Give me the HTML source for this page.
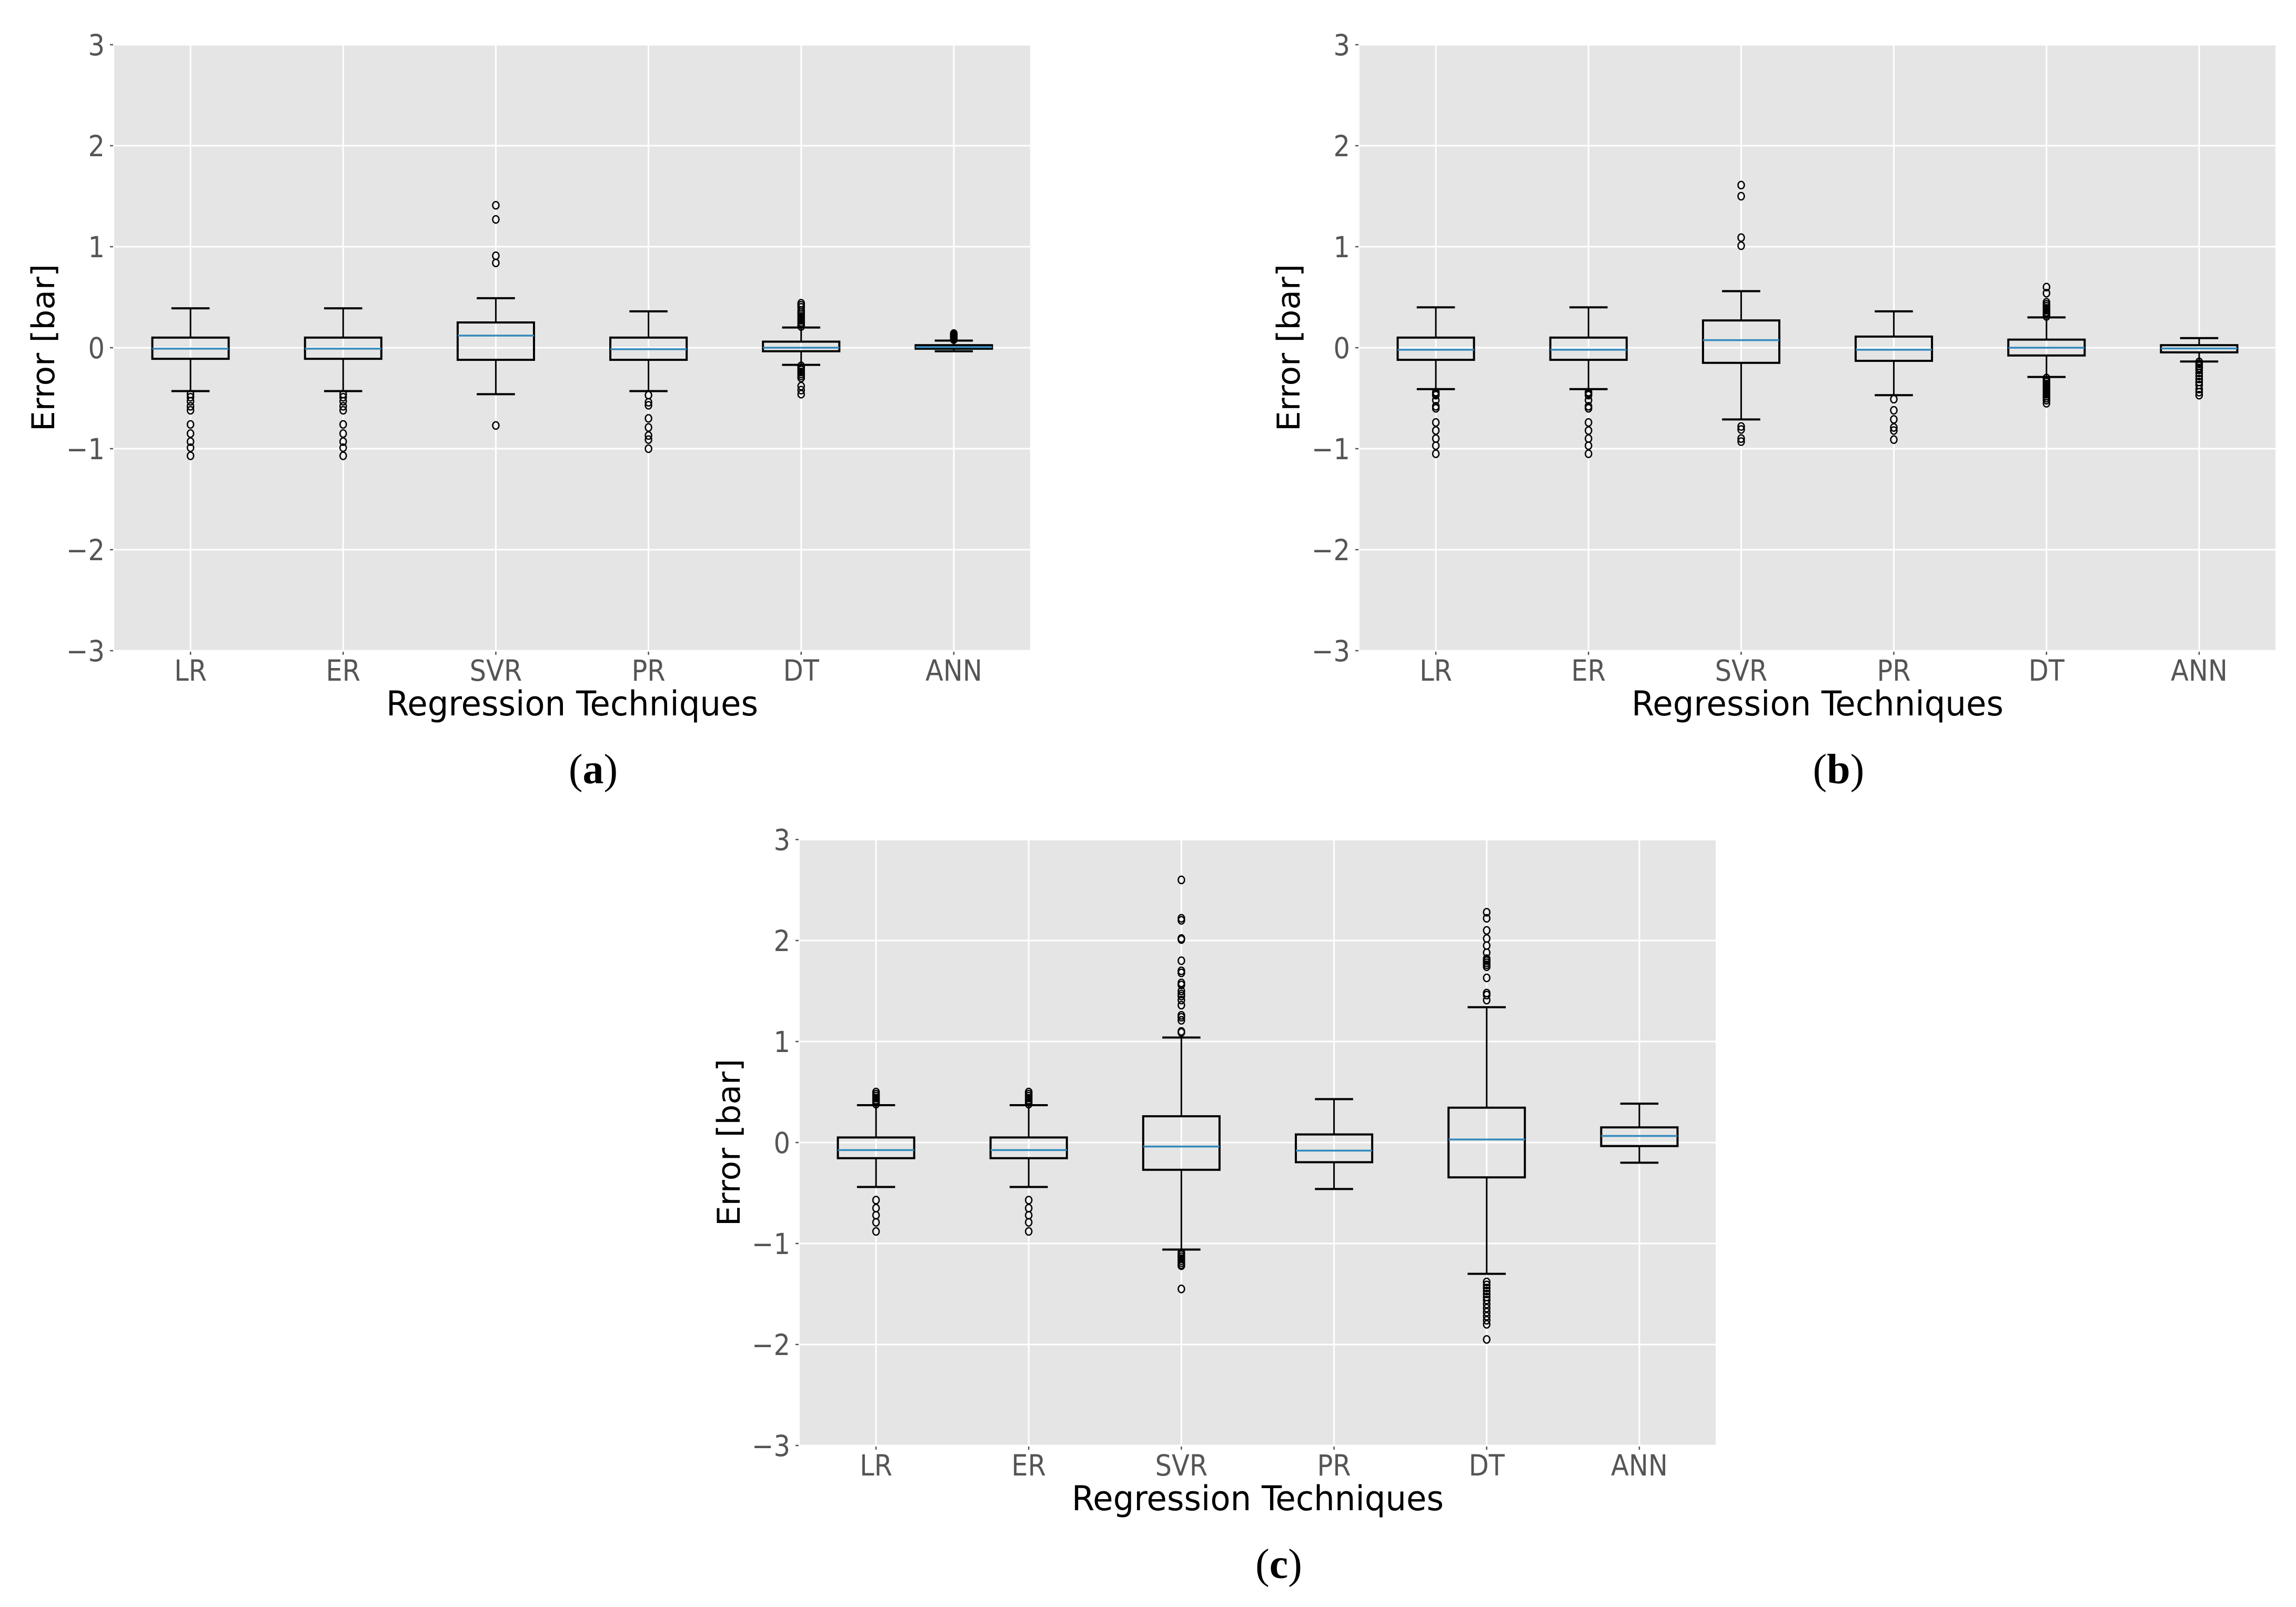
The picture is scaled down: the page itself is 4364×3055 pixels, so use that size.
<!DOCTYPE html>
<html><head><meta charset="utf-8"><style>
html,body{margin:0;padding:0;background:#fff;}
svg{display:block;}
.tick{font-family:"DejaVu Sans Condensed","DejaVu Sans","Liberation Sans",sans-serif;fill:#555;font-size:55px;}
.lab{font-family:"DejaVu Sans Condensed","DejaVu Sans","Liberation Sans",sans-serif;fill:#000;font-size:65px;}
.ylab{font-family:"DejaVu Sans","Liberation Sans",sans-serif;fill:#000;font-size:60px;}
.cap{font-family:"Liberation Serif",serif;fill:#000;font-size:80px;}
</style></head><body>
<svg id="fig" width="4364" height="3055" viewBox="0 0 4364 3055" xmlns="http://www.w3.org/2000/svg"></svg>
<script>
const categories = ["LR","ER","SVR","PR","DT","ANN"];
const yTicks = [3,2,1,0,-1,-2,-3];
// [whiskerLow, Q1, median, Q3, whiskerHigh] per category
const statsA = [[-0.43,-0.11,-0.01,0.10,0.39],[-0.43,-0.11,-0.01,0.10,0.39],[-0.46,-0.12,0.12,0.25,0.49],[-0.43,-0.12,-0.015,0.10,0.36],[-0.17,-0.035,0.0,0.06,0.20],[-0.035,-0.01,0.005,0.025,0.07]];
const outA = [
 [-0.46,-0.49,-0.53,-0.58,-0.62,-0.76,-0.85,-0.93,-0.99,-1.07],
 [-0.46,-0.49,-0.53,-0.58,-0.62,-0.76,-0.85,-0.93,-0.99,-1.07],
 [1.41,1.27,0.91,0.84,-0.77],
 [-0.47,-0.54,-0.57,-0.70,-0.79,-0.87,-0.91,-1.0],
 [0.21,0.23,0.25,0.27,0.29,0.31,0.33,0.35,0.37,0.40,0.42,0.44,-0.18,-0.2,-0.22,-0.24,-0.26,-0.28,-0.30,-0.38,-0.42,-0.46],
 [0.08,0.09,0.1,0.11,0.12,0.13,0.14]
];
const statsB = [[-0.41,-0.12,-0.02,0.10,0.40],[-0.41,-0.12,-0.02,0.10,0.40],[-0.71,-0.15,0.075,0.27,0.56],[-0.47,-0.13,-0.02,0.11,0.36],[-0.29,-0.077,0.0,0.08,0.30],[-0.137,-0.046,-0.007,0.025,0.095]];
const outB = [
 [-0.44,-0.46,-0.47,-0.52,-0.58,-0.60,-0.74,-0.82,-0.90,-0.97,-1.05],
 [-0.44,-0.46,-0.47,-0.52,-0.58,-0.60,-0.74,-0.82,-0.90,-0.97,-1.05],
 [1.61,1.50,1.09,1.01,-0.78,-0.81,-0.90,-0.93],
 [-0.51,-0.62,-0.71,-0.79,-0.82,-0.91],
 [0.31,0.33,0.35,0.37,0.39,0.41,0.43,0.45,0.54,0.60,-0.3,-0.32,-0.34,-0.36,-0.38,-0.40,-0.42,-0.44,-0.46,-0.48,-0.50,-0.52,-0.55],
 [-0.14,-0.16,-0.18,-0.2,-0.22,-0.25,-0.28,-0.31,-0.34,-0.37,-0.41,-0.44,-0.47]
];
const statsC = [[-0.44,-0.155,-0.075,0.05,0.37],[-0.44,-0.155,-0.075,0.05,0.37],[-1.06,-0.27,-0.04,0.26,1.04],[-0.46,-0.195,-0.08,0.08,0.43],[-1.30,-0.345,0.03,0.345,1.34],[-0.2,-0.035,0.065,0.15,0.385]];
const outC = [
 [0.38,0.40,0.42,0.44,0.46,0.48,0.50,-0.57,-0.65,-0.72,-0.79,-0.88],
 [0.38,0.40,0.42,0.44,0.46,0.48,0.50,-0.57,-0.65,-0.72,-0.79,-0.88],
 [1.09,1.10,1.21,1.24,1.26,1.36,1.41,1.45,1.47,1.50,1.56,1.58,1.68,1.70,1.80,2.01,2.02,2.20,2.22,2.60,-1.09,-1.11,-1.13,-1.15,-1.17,-1.19,-1.21,-1.22,-1.45],
 [],
 [1.41,1.46,1.48,1.63,1.74,1.76,1.78,1.80,1.82,1.88,1.95,2.02,2.10,2.22,2.28,-1.38,-1.41,-1.44,-1.47,-1.50,-1.53,-1.56,-1.60,-1.64,-1.68,-1.72,-1.76,-1.80,-1.95],
 []
];

const NS="http://www.w3.org/2000/svg";
const svg=document.getElementById('fig');
function mk(tag,attrs,parent){const e=document.createElementNS(NS,tag);for(const k in attrs)e.setAttribute(k,attrs[k]);(parent||svg).appendChild(e);return e;}
const W=1741,H=1152;
function drawPanel(L,T,stats,outs,capText,key){
  const g=mk('g',{});
  
  
  const xs=i=>L+(i+0.5)*W/6;
  const ys=v=>T+(3-v)*H/6;
  const bg=mk('rect',{x:L,y:T,width:W,height:H,fill:'#E5E5E5'},g);
  
  
  yTicks.forEach((v,i)=>{
    const gl=mk('line',{x1:L,x2:L+W,y1:ys(v),y2:ys(v),stroke:'#fff','stroke-width':3},g);
    
    
    mk('line',{x1:L-8,x2:L-2,y1:ys(v),y2:ys(v),stroke:'#555','stroke-width':2.5},g);
    const lbl = v<0 ? '\u2212'+Math.abs(v) : String(v);
    const t=mk('text',{x:L-18,y:ys(v)+20,'text-anchor':'end',class:'tick'},g);
    t.textContent=lbl;
    
    
  });
  categories.forEach((c,i)=>{
    const gl=mk('line',{x1:xs(i),x2:xs(i),y1:T,y2:T+H,stroke:'#fff','stroke-width':3},g);
    
    
    mk('line',{x1:xs(i),x2:xs(i),y1:T+H+2,y2:T+H+8,stroke:'#555','stroke-width':2.5},g);
    const t=mk('text',{x:xs(i),y:T+H+57,'text-anchor':'middle',class:'tick'},g);
    t.textContent=c;
    
    
  });
  const bw=W/6*0.5;
  stats.forEach((s,i)=>{
    const bx=mk('g',{},g);
    
    
    const x=xs(i);
    mk('line',{x1:x,x2:x,y1:ys(s[0]),y2:ys(s[1]),stroke:'#000','stroke-width':3},bx);
    mk('line',{x1:x,x2:x,y1:ys(s[3]),y2:ys(s[4]),stroke:'#000','stroke-width':3},bx);
    mk('line',{x1:x-bw/4,x2:x+bw/4,y1:ys(s[0]),y2:ys(s[0]),stroke:'#000','stroke-width':4},bx);
    mk('line',{x1:x-bw/4,x2:x+bw/4,y1:ys(s[4]),y2:ys(s[4]),stroke:'#000','stroke-width':4},bx);
    mk('rect',{x:x-bw/2,y:ys(s[3]),width:bw,height:ys(s[1])-ys(s[3]),fill:'none',stroke:'#000','stroke-width':4},bx);
    const md=mk('line',{x1:x-bw/2,x2:x+bw/2,y1:ys(s[2]),y2:ys(s[2]),stroke:'#348ABD','stroke-width':3.5},bx);
    
    
    outs[i].forEach(v=>{
      const o=mk('ellipse',{cx:x,cy:ys(v),rx:6,ry:7,fill:'none',stroke:'#000','stroke-width':2.5},bx);
      
      
    });
  });
  const xl=mk('text',{x:L+W/2,y:T+H+123,'text-anchor':'middle',class:'lab',textLength:707,lengthAdjust:'spacingAndGlyphs'},g);
  xl.textContent='Regression Techniques';
  
  
  const yl=mk('text',{x:0,y:0,'text-anchor':'middle',class:'ylab',textLength:318,lengthAdjust:'spacingAndGlyphs',transform:`translate(${L-114},${T+H/2}) rotate(-90)`},g);
  yl.textContent='Error [bar]';
  
  
  const cp=mk('text',{x:L+W/2+40,y:T+H+252,'text-anchor':'middle',class:'cap'},g);
  cp.innerHTML='(<tspan font-weight="bold">'+capText+'</tspan>)';
  
  
}
drawPanel(217,85,statsA,outA,'a','a');
drawPanel(2584,85,statsB,outB,'b','b');
drawPanel(1520,1596,statsC,outC,'c','c');
</script>
</body></html>
